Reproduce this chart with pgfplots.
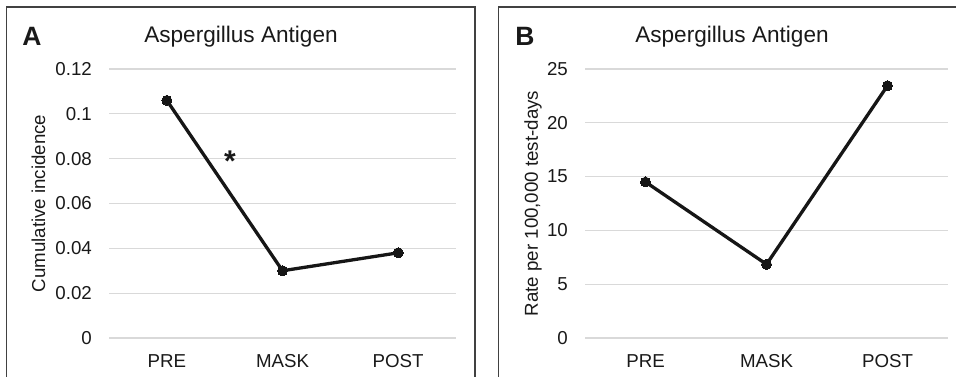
\documentclass[border=0pt]{standalone}
\usepackage{pgfplots}
\pgfplotsset{compat=1.18}
\usepackage{fontspec}
\setmainfont{Liberation Sans}
\definecolor{gridc}{RGB}{217,217,217}
\definecolor{boxc}{RGB}{65,65,65}
\definecolor{linec}{RGB}{22,22,22}
\definecolor{txt}{RGB}{25,25,25}
\pgfplotsset{
  panel/.style={
    scale only axis,
    anchor=south west,
    xmin=-0.5, xmax=2.5,
    xtick={0,1,2},
    xticklabels={PRE,MASK,POST},
    axis line style={draw=none},
    major tick length=0pt,
    ymajorgrids,
    grid style={gridc, line width=1.3bp},
    tick label style={font=\fontsize{18.7bp}{22bp}\selectfont, text=txt},
    xticklabel style={anchor=north, inner sep=0pt, yshift=-16bp},
    yticklabel style={anchor=east, inner sep=0pt, xshift=-17bp},
    label style={font=\fontsize{18.7bp}{22bp}\selectfont, text=txt},
    clip=false,
  },
  dataline/.style={linec, line width=3.3bp, mark=*, mark size=5bp, mark options={fill=linec, draw=linec, line width=0pt}},
}
\begin{document}
\begin{tikzpicture}[x=1bp,y=1bp]
\path[use as bounding box] (0,0) rectangle (956,376);
% panel boxes
\draw[boxc, line width=1.7bp] (6.5,-10) rectangle (475,369);
\draw[boxc, line width=1.7bp] (498.5,-10) rectangle (980,369);
% panel letters and titles
\node[anchor=base, font=\fontsize{26.5bp}{30bp}\selectfont\bfseries, text=txt] at (32,331) {A};
\node[anchor=base, font=\fontsize{26.5bp}{30bp}\selectfont\bfseries, text=txt] at (525,331) {B};
\node[anchor=base, font=\fontsize{22.6bp}{26bp}\selectfont, text=txt] at (241,333.7) {Aspergillus Antigen};
\node[anchor=base, font=\fontsize{22.6bp}{26bp}\selectfont, text=txt] at (732,333.7) {Aspergillus Antigen};

\begin{axis}[panel,
  at={(109bp,38bp)}, width=347bp, height=269bp,
  ymin=0, ymax=0.12,
  ytick={0,0.02,0.04,0.06,0.08,0.1,0.12},
  yticklabels={0,0.02,0.04,0.06,0.08,0.1,0.12},
  ylabel={Cumulative incidence},
  ylabel style={at={(axis description cs:-0.2035,0.5)}, anchor=center, inner sep=0pt},
]
\addplot[dataline] coordinates {(0,0.106) (1,0.030) (2,0.038)};
\node[anchor=base, font=\fontsize{30bp}{34bp}\selectfont\bfseries, text=txt] at (axis cs:0.546,0.0741) {*};
\end{axis}

\begin{axis}[panel,
  at={(585bp,38bp)}, width=363bp, height=269bp,
  ymin=0, ymax=25,
  ytick={0,5,10,15,20,25},
  yticklabels={0,5,10,15,20,25},
  ylabel={Rate per 100,000 test-days},
  ylabel style={at={(axis description cs:-0.1433,0.5)}, anchor=center, inner sep=0pt},
]
\addplot[dataline] coordinates {(0,14.5) (1,6.85) (2,23.45)};
\end{axis}
\end{tikzpicture}
\end{document}
